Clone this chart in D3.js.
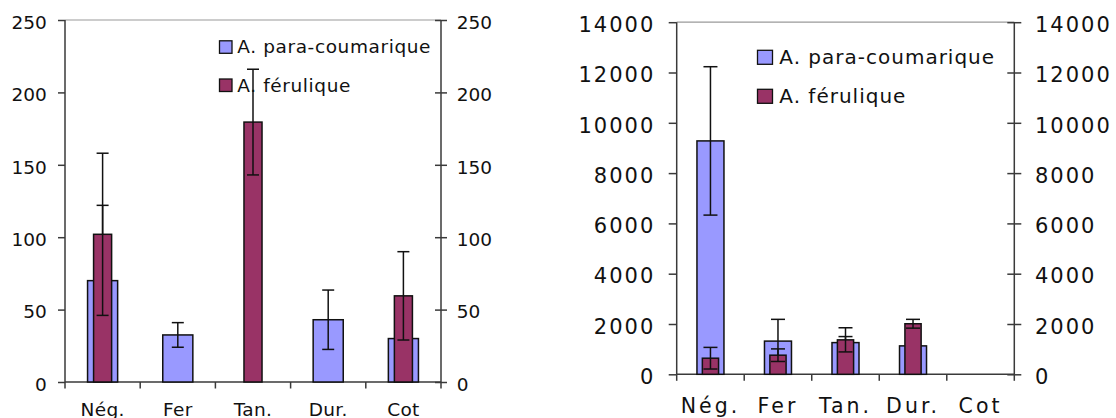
<!DOCTYPE html>
<html><head><meta charset="utf-8">
<script src="https://cdn.jsdelivr.net/npm/d3@7"></script>
<style>body{margin:0;background:#fff} svg{display:block}</style>
</head><body><svg id="c" width="1116" height="418"></svg>
<script>
// ---- data ----
const categories = ["Nég.", "Fer", "Tan.", "Dur.", "Cot"];
const seriesNames = ["A. para-coumarique", "A. férulique"];
const seriesColors = ["#9999FF", "#993366"];

const leftTicks = [0, 50, 100, 150, 200, 250];
const leftPara = [70, 32.5, 0, 43, 30];
const leftParaErr = [52, 8.5, 0, 20.5, 0];
const leftFer = [102, 0, 179.5, 0, 59.5];
const leftFerErr = [56, 0, 36.5, 0, 30.5];

const rightTicks = [0, 2000, 4000, 6000, 8000, 10000, 12000, 14000];
const rightPara = [9280, 1320, 1260, 1130, 0];
const rightParaErr = [2950, 865, 240, 150, 0];
const rightFer = [640, 760, 1370, 2010, 0];
const rightFerErr = [430, 250, 480, 175, 0];

const svg = d3.select("#c");

function drawChart(cfg) {
  const g = svg.append("g");
  const x = d3.scaleBand().domain(categories).range([cfg.x0, cfg.x1]);
  const y = d3.scaleLinear().domain([0, d3.max(cfg.ticks)]).range([cfg.y0, cfg.yTop]);
  const bw = x.bandwidth();
  const cx = c => x(c) + bw / 2;

  // top border
  g.append("line").attr("x1", cfg.x0).attr("x2", cfg.x1)
    .attr("y1", cfg.yTop).attr("y2", cfg.yTop)
    .attr("stroke", "#9a9a9a").attr("stroke-width", 1.2);

  // left axis
  const la = g.append("g").attr("transform", `translate(${cfg.x0},0)`)
    .call(d3.axisLeft(y).tickValues(cfg.ticks).tickSize(cfg.leftTick).tickPadding(cfg.leftPad).tickFormat(d3.format("d")));
  // right axis
  const ra = g.append("g").attr("transform", `translate(${cfg.x1},0)`)
    .call(d3.axisRight(y).tickValues(cfg.ticks).tickSize(cfg.rightTick).tickPadding(cfg.rightPad).tickFormat(d3.format("d")));
  ra.selectAll(".tick line").attr("x1", -cfg.rightTick);
  [la, ra].forEach(a => {
    a.select(".domain").attr("stroke", "#3a3a3a").attr("stroke-width", 1.5)
      .attr("d", `M0,${cfg.y0}V${cfg.yTop}`);
    a.selectAll(".tick line").attr("stroke", "#3a3a3a").attr("stroke-width", 1.5);
    a.selectAll(".tick text")
      .attr("font-family", "DejaVu Sans, Verdana, sans-serif")
      .attr("font-size", cfg.tickFont).attr("letter-spacing", cfg.tickLs)
      .attr("fill", "#111").attr("dy", cfg.tickDy);
  });

  // bottom axis with boundary ticks
  const ba = g.append("g").attr("transform", `translate(0,${cfg.y0})`)
    .call(d3.axisBottom(x).tickSize(0).tickPadding(0));
  ba.select(".domain").attr("stroke", "#3a3a3a").attr("stroke-width", 1.5)
    .attr("d", `M${cfg.x0},0H${cfg.x1}`);
  ba.selectAll(".tick text").attr("y", cfg.catY).attr("dy", 0)
    .attr("font-family", "DejaVu Sans, Verdana, sans-serif")
    .attr("font-size", cfg.catFont).attr("letter-spacing", cfg.catLs)
    .attr("fill", "#111");
  const bounds = categories.map(c => x(c)).concat([x(categories[categories.length - 1]) + bw]);
  ba.selectAll("line.bt").data(bounds).join("line").attr("class", "bt")
    .attr("x1", d => d).attr("x2", d => d).attr("y1", 0).attr("y2", 6.5)
    .attr("stroke", "#3a3a3a").attr("stroke-width", 1.5);

  const data = categories.map((c, i) => ({c, para: cfg.para[i], paraErr: cfg.paraErr[i], fer: cfg.fer[i], ferErr: cfg.ferErr[i]}));

  function bars(key, frac, color) {
    g.append("g").selectAll("rect").data(data.filter(d => d[key] > 0)).join("rect")
      .attr("x", d => cx(d.c) - bw * frac / 2).attr("width", bw * frac)
      .attr("y", d => y(d[key])).attr("height", d => cfg.y0 - y(d[key]))
      .attr("fill", color).attr("stroke", "#111").attr("stroke-width", 1.5);
  }
  function errs(key, ekey) {
    const eg = g.append("g").attr("stroke", "#111").attr("stroke-width", 1.5);
    const ds = data.filter(d => d[key] > 0 && d[ekey] > 0);
    eg.selectAll("line.v").data(ds).join("line").attr("class", "v")
      .attr("x1", d => cx(d.c)).attr("x2", d => cx(d.c))
      .attr("y1", d => y(d[key] + d[ekey])).attr("y2", d => y(Math.max(0, d[key] - d[ekey])));
    eg.selectAll("line.t").data(ds).join("line").attr("class", "t")
      .attr("x1", d => cx(d.c) - cfg.capW / 2).attr("x2", d => cx(d.c) + cfg.capW / 2)
      .attr("y1", d => y(d[key] + d[ekey])).attr("y2", d => y(d[key] + d[ekey]));
    eg.selectAll("line.b").data(ds).join("line").attr("class", "b")
      .attr("x1", d => cx(d.c) - cfg.capW / 2).attr("x2", d => cx(d.c) + cfg.capW / 2)
      .attr("y1", d => y(Math.max(0, d[key] - d[ekey]))).attr("y2", d => y(Math.max(0, d[key] - d[ekey])));
  }
  bars("para", 0.4, seriesColors[0]);
  errs("para", "paraErr");
  bars("fer", 0.24, seriesColors[1]);
  errs("fer", "ferErr");

  // legend
  const L = cfg.legend;
  seriesNames.forEach((name, i) => {
    const by = L.y[i];
    g.append("rect").attr("x", L.boxX).attr("y", by - L.boxH)
      .attr("width", L.boxW).attr("height", L.boxH)
      .attr("fill", seriesColors[i]).attr("stroke", "#111").attr("stroke-width", 1.3);
    g.append("text").attr("x", L.textX).attr("y", by).text(name)
      .attr("font-family", "DejaVu Sans, Verdana, sans-serif")
      .attr("font-size", L.font).attr("letter-spacing", L.ls).attr("fill", "#111");
  });
}

drawChart({
  x0: 65, x1: 441, y0: 382, yTop: 20, ticks: leftTicks,
  para: leftPara, paraErr: leftParaErr, fer: leftFer, ferErr: leftFerErr,
  leftTick: 7, leftPad: 11.3, rightTick: 6, rightPad: 9.7,
  tickFont: 18.5, tickLs: 0, tickDy: 8.3,
  catY: 34, catFont: 18.5, catLs: 0.3, capW: 12,
  legend: {boxX: 219.5, boxW: 12.5, boxH: 12.5, y: [53.3, 91.5], textX: 237.3, font: 18.5, ls: 0.6}
});

drawChart({
  x0: 676.7, x1: 1014.3, y0: 374.3, yTop: 22.2, ticks: rightTicks,
  para: rightPara, paraErr: rightParaErr, fer: rightFer, ferErr: rightFerErr,
  leftTick: 8, leftPad: 13.4, rightTick: 7, rightPad: 13.7,
  tickFont: 21, tickLs: 2, tickDy: 9.2,
  catY: 39, catFont: 20.5, catLs: 3, capW: 14,
  legend: {boxX: 757.5, boxW: 15, boxH: 14, y: [64.3, 103.3], textX: 779.3, font: 20, ls: 1}
});
</script>
</body></html>
